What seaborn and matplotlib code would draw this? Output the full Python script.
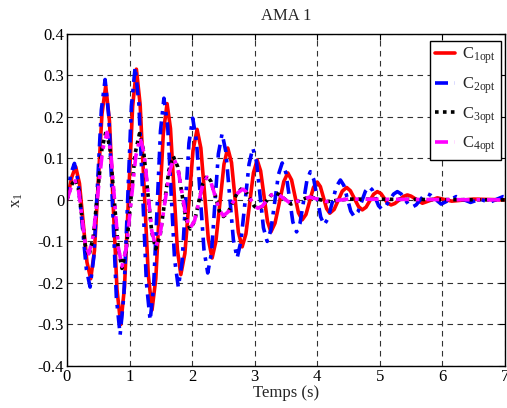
import numpy as np
import pandas as pd
import matplotlib
matplotlib.use("Agg")
import matplotlib.pyplot as plt
import seaborn as sns

# ---- data (extrema and shoulders of each damped response) ----
t_c1 = [0.00, 0.08, 0.14, 0.20, 0.32, 0.38, 0.44, 0.56, 0.62, 0.68, 0.80, 0.86, 0.92,
        1.05, 1.11, 1.17, 1.30, 1.36, 1.42, 1.54, 1.60, 1.655, 1.765, 1.82, 1.885,
        2.015, 2.08, 2.14, 2.26, 2.32, 2.38, 2.51, 2.57, 2.63, 2.74, 2.80, 2.86,
        2.98, 3.04, 3.095, 3.205, 3.26, 3.325, 3.465, 3.53, 3.59, 3.70, 3.76, 3.82,
        3.94, 4.00, 4.05, 4.15, 4.20, 4.27, 4.40, 4.47, 4.53, 4.66, 4.72, 4.78,
        4.90, 4.96, 5.02, 5.12, 5.18, 5.24, 5.38, 5.44, 5.50, 5.68, 5.92, 6.15,
        6.50, 7.00]
x_c1 = [0.000, 0.056, 0.080, 0.040, -0.150, -0.190, -0.122, 0.207, 0.275, 0.190,
        -0.216, -0.300, -0.210, 0.225, 0.315, 0.230, -0.180, -0.265, -0.190, 0.160,
        0.232, 0.172, -0.120, -0.180, -0.129, 0.119, 0.170, 0.125, -0.095, -0.140,
        -0.100, 0.086, 0.125, 0.090, -0.078, -0.113, -0.082, 0.065, 0.096, 0.070,
        -0.052, -0.077, -0.056, 0.044, 0.065, 0.048, -0.031, -0.048, -0.035, 0.030,
        0.043, 0.032, -0.021, -0.032, -0.023, 0.021, 0.030, 0.022, -0.016, -0.024,
        -0.0175, 0.0135, 0.020, 0.015, -0.007, -0.012, -0.0085, 0.0085, 0.012,
        0.009, -0.008, 0.005, -0.003, 0.002, 0.000]

t_c2 = [0.00, 0.06, 0.12, 0.18, 0.31, 0.37, 0.43, 0.55, 0.61, 0.67, 0.79, 0.85, 0.91,
        1.03, 1.09, 1.15, 1.27, 1.33, 1.385, 1.495, 1.55, 1.61, 1.72, 1.78, 1.84,
        1.95, 2.01, 2.07, 2.19, 2.25, 2.31, 2.42, 2.48, 2.54, 2.66, 2.72, 2.78,
        2.91, 2.97, 3.03, 3.14, 3.20, 3.26, 3.38, 3.44, 3.50, 3.61, 3.67, 3.725,
        3.835, 3.89, 3.945, 4.055, 4.11, 4.175, 4.305, 4.37, 4.425, 4.535, 4.59,
        4.65, 4.77, 4.83, 4.88, 4.98, 5.03, 5.09, 5.22, 5.28, 5.34, 5.46, 5.52,
        5.58, 5.70, 5.76, 5.815, 5.98, 6.22, 6.45, 6.60, 6.75, 6.97, 7.00]
x_c2 = [0.000, 0.062, 0.088, 0.044, -0.166, -0.210, -0.137, 0.217, 0.290, 0.200,
        -0.235, -0.325, -0.230, 0.225, 0.320, 0.231, -0.200, -0.290, -0.210, 0.166,
        0.245, 0.178, -0.143, -0.210, -0.150, 0.137, 0.197, 0.142, -0.120, -0.176,
        -0.127, 0.111, 0.160, 0.116, -0.096, -0.140, -0.100, 0.086, 0.125, 0.092,
        -0.067, -0.100, -0.072, 0.061, 0.089, 0.065, -0.053, -0.077, -0.056, 0.047,
        0.068, 0.049, -0.041, -0.060, -0.044, 0.032, 0.048, 0.035, -0.027, -0.040,
        -0.029, 0.021, 0.032, 0.024, -0.014, -0.022, -0.016, 0.014, 0.020, 0.0145,
        -0.0115, -0.017, -0.012, 0.010, 0.015, 0.011, -0.010, 0.008, -0.006, 0.002,
        -0.006, 0.008, 0.007]

t_c3 = [0.00, 0.07, 0.13, 0.19, 0.29, 0.35, 0.42, 0.56, 0.63, 0.69, 0.82, 0.88, 0.95,
        1.09, 1.16, 1.225, 1.355, 1.42, 1.49, 1.63, 1.70, 1.77, 1.90, 1.97, 2.04,
        2.17, 2.24, 2.305, 2.435, 2.50, 2.575, 2.725, 2.80, 2.86, 2.99, 3.05, 3.12,
        3.26, 3.33, 3.39, 3.58, 3.88, 4.15, 4.50, 7.00]
x_c3 = [0.000, 0.035, 0.050, 0.023, -0.108, -0.135, -0.090, 0.124, 0.168, 0.120,
        -0.116, -0.165, -0.117, 0.112, 0.160, 0.119, -0.077, -0.118, -0.085, 0.072,
        0.105, 0.080, -0.045, -0.070, -0.051, 0.039, 0.058, 0.044, -0.026, -0.040,
        -0.030, 0.018, 0.028, 0.0205, -0.0145, -0.022, -0.016, 0.011, 0.017, 0.013,
        -0.010, 0.008, -0.004, 0.002, 0.000]

t_c4 = [0.00, 0.07, 0.13, 0.19, 0.29, 0.35, 0.42, 0.57, 0.64, 0.70, 0.82, 0.88, 0.95,
        1.10, 1.17, 1.235, 1.355, 1.42, 1.49, 1.64, 1.71, 1.775, 1.905, 1.97, 2.04,
        2.17, 2.24, 2.305, 2.435, 2.50, 2.575, 2.73, 2.81, 2.87, 2.99, 3.05, 3.12,
        3.26, 3.33, 3.39, 3.58, 3.88, 4.15, 4.50, 7.00]
x_c4 = [0.000, 0.032, 0.046, 0.020, -0.104, -0.130, -0.087, 0.120, 0.163, 0.116,
        -0.113, -0.160, -0.115, 0.105, 0.150, 0.111, -0.074, -0.113, -0.082, 0.069,
        0.100, 0.075, -0.043, -0.068, -0.050, 0.037, 0.055, 0.041, -0.024, -0.038,
        -0.029, 0.017, 0.026, 0.019, -0.013, -0.020, -0.015, 0.011, 0.016, 0.012,
        -0.009, 0.007, -0.004, 0.002, 0.000]

labels = [r"C$_{\mathrm{1opt}}$", r"C$_{\mathrm{2opt}}$",
          r"C$_{\mathrm{3opt}}$", r"C$_{\mathrm{4opt}}$"]
xticks = [0, 1, 2, 3, 4, 5, 6, 7]
yticks = [-0.4, -0.3, -0.2, -0.1, 0, 0.1, 0.2, 0.3, 0.4]
ytick_labels = ["-0.4", "-0.3", "-0.2", "-0.1", "0", "0.1", "0.2", "0.3", "0.4"]

# ---- styling ----
sns.set_style("white")
plt.rcParams["font.family"] = ["Liberation Serif", "DejaVu Serif"]
plt.rcParams["mathtext.fontset"] = "custom"
plt.rcParams["mathtext.rm"] = "Liberation Serif"
plt.rcParams["mathtext.it"] = "Liberation Serif:italic"
plt.rcParams["mathtext.bf"] = "Liberation Serif:bold"

fig = plt.figure(figsize=(5.07, 4.08), dpi=100)
ax = fig.add_axes([0.132, 0.103, 0.864, 0.814])

dashdot = (0, (3.6, 1.9, 1.0, 1.9))
series = [
    (t_c1, x_c1, labels[0], "#ff0000", "-"),
    (t_c2, x_c2, labels[1], "#0000ff", dashdot),
    (t_c3, x_c3, labels[2], "#000000", (0, (1.0, 1.2))),
    (t_c4, x_c4, labels[3], "#ff00ff", dashdot),
]
for t, v, lab, col, ls in series:
    df = pd.DataFrame({"t": t, "x": v})
    sns.lineplot(data=df, x="t", y="x", ax=ax, color=col, linestyle=ls,
                 linewidth=2.6, label=lab, sort=False, estimator=None)

ax.set_xlim(0, 7)
ax.set_ylim(-0.4, 0.4)
ax.set_xticks(xticks)
ax.set_xticklabels([str(v) for v in xticks])
ax.set_yticks(yticks)
ax.set_yticklabels(ytick_labels)
ax.grid(True, color="#333333", linestyle=(0, (5, 4)), linewidth=0.8)
ax.set_axisbelow(True)
for sp in ax.spines.values():
    sp.set_color("black")
    sp.set_linewidth(1.0)
ax.tick_params(axis="both", direction="in", length=4, width=0.8, top=True,
               right=True, labelsize=12, colors="black", pad=2)

ax.set_title("AMA 1", fontsize=12, pad=10)
ax.set_xlabel("Temps (s)", fontsize=12, labelpad=0)
ax.set_ylabel(r"x$_{\mathrm{1}}$", fontsize=12, labelpad=9)

leg = ax.legend(loc="upper right", bbox_to_anchor=(0.998, 0.99), fontsize=12,
                frameon=True, fancybox=False, framealpha=1, edgecolor="black",
                handlelength=1.2, handletextpad=0.4, labelspacing=0.55,
                borderpad=0.3, borderaxespad=0.2)
leg.get_frame().set_linewidth(1.0)

fig.savefig("out.png", dpi=100)
